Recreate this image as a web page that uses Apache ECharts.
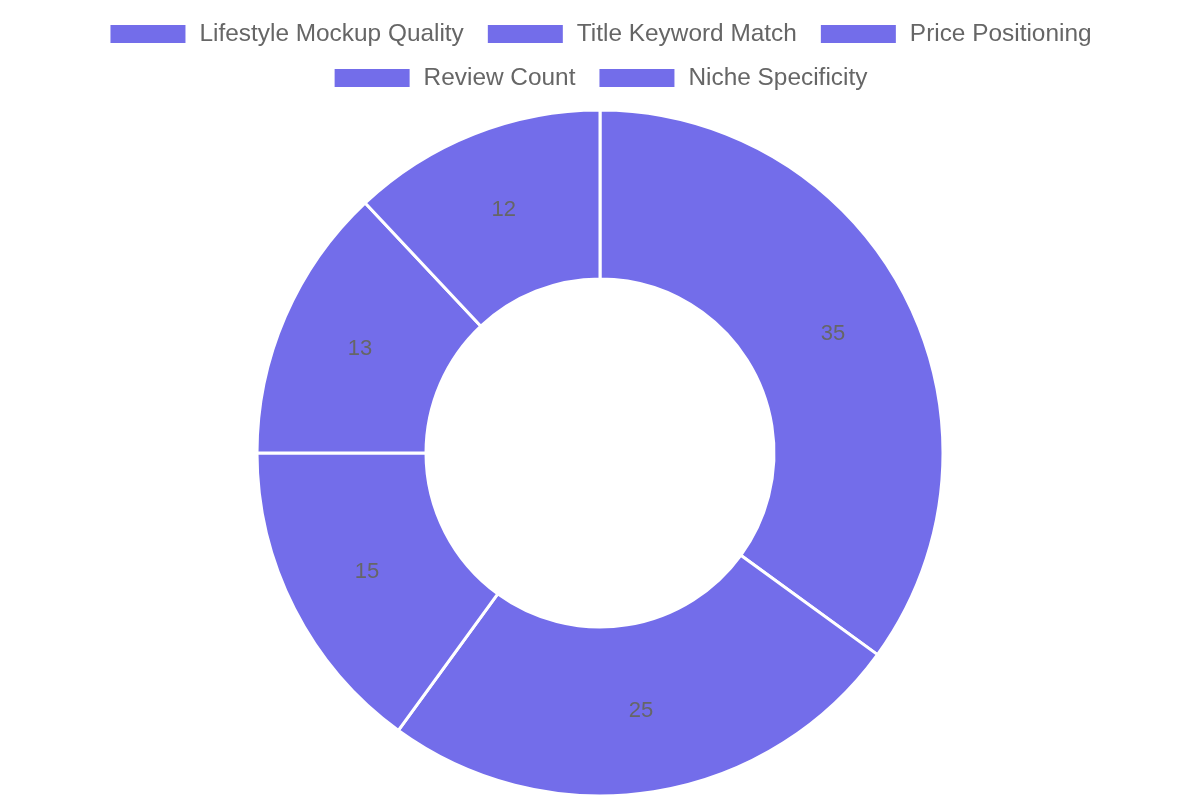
<!DOCTYPE html>
<html>
<head>
<meta charset="utf-8">
<script src="https://cdn.jsdelivr.net/npm/echarts@6/dist/echarts.min.js"></script>
<style>
html,body{margin:0;padding:0;background:#fff;}
#main{width:1200px;height:800px;}
</style>
</head>
<body>
<div id="main"></div>
<script>
var categories = ['Lifestyle Mockup Quality', 'Title Keyword Match', 'Price Positioning', 'Review Count', 'Niche Specificity'];
var values = [35, 25, 15, 13, 12];
var legendRow1 = categories.slice(0, 3);
var legendRow2 = categories.slice(3);

var legendText = {
    fontSize: 24.4,
    lineHeight: 20,
    color: '#666',
    fontFamily: 'Liberation Sans, Arial, sans-serif',
    padding: [0, 0, 0, 8]
};

var myChart = echarts.init(document.getElementById('main'));
var option = {
    animation: false,
    color: ['#736DEA'],
    legend: [
        {
            top: 22,
            left: 'center',
            padding: 0,
            itemWidth: 77,
            itemHeight: 20,
            itemGap: 22,
            icon: 'rect',
            textStyle: legendText,
            data: legendRow1
        },
        {
            top: 66,
            left: 'center',
            padding: 0,
            itemWidth: 77,
            itemHeight: 20,
            itemGap: 22,
            icon: 'rect',
            textStyle: legendText,
            data: legendRow2
        }
    ],
    series: [
        {
            type: 'pie',
            center: [600, 453],
            radius: [174, 343],
            startAngle: 90,
            clockwise: true,
            itemStyle: {
                color: '#736DEA',
                borderColor: '#fff',
                borderWidth: 3
            },
            label: {
                show: true,
                position: 'inside',
                formatter: '{c}',
                fontSize: 22,
                color: '#666',
                fontFamily: 'Liberation Sans, Arial, sans-serif'
            },
            labelLine: {show: false},
            emphasis: {disabled: true},
            data: categories.map(function (c, i) {
                return {name: c, value: values[i]};
            })
        }
    ]
};
myChart.setOption(option);
</script>
</body>
</html>
